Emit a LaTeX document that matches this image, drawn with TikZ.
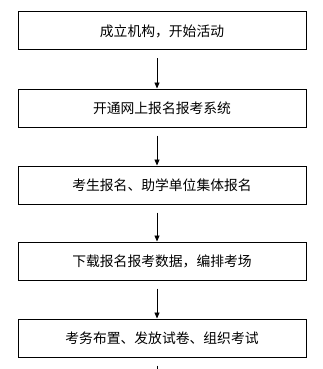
\documentclass[tikz,border=0pt]{standalone}
\usepackage{fontspec}
\setmainfont{Noto Sans CJK SC}
\usetikzlibrary{arrows.meta}
\begin{document}
\begin{tikzpicture}[x=1pt,y=1pt,
  stepbox/.style={draw=black,line width=1pt,minimum width=288pt,minimum height=38pt,inner sep=0pt,font=\fontsize{13.8}{16}\selectfont},
  flow/.style={draw=black,line width=0.9pt,-{Triangle[length=6pt,width=5pt]}}]
\useasboundingbox (0,0) rectangle (322,-369);
\fill[white] (0,0) rectangle (322,-369);
\node[stepbox] (b1) at (162,-31) {成立机构，开始活动};
\node[stepbox] (b2) at (162,-108) {开通网上报名报考系统};
\node[stepbox] (b3) at (162,-185) {考生报名、助学单位集体报名};
\node[stepbox] (b4) at (162,-261) {下载报名报考数据，编排考场};
\node[stepbox] (b5) at (162,-338) {考务布置、发放试卷、组织考试};
\coordinate (e5) at (157,-372);
\draw[flow] ([xshift=-5pt,yshift=-8pt]b1.south) -- ([xshift=-5pt]b2.north);
\draw[flow] ([xshift=-5pt,yshift=-8pt]b2.south) -- ([xshift=-5pt]b3.north);
\draw[flow] ([xshift=-5pt,yshift=-8pt]b3.south) -- ([xshift=-5pt]b4.north);
\draw[flow] ([xshift=-5pt,yshift=-8pt]b4.south) -- ([xshift=-5pt]b5.north);
\draw[draw=black,line width=0.9pt] ([xshift=-5pt,yshift=-8pt]b5.south) -- (e5);
\end{tikzpicture}
\end{document}
